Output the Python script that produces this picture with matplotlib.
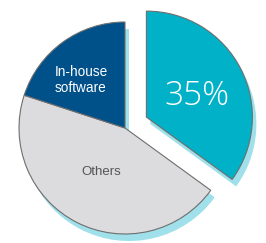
import matplotlib
matplotlib.use("Agg")
import matplotlib.pyplot as plt

labels = ["35%", "Others", "In-house\nsoftware"]
values = [35, 45, 20]
colors = ["#00B1C8", "#DCDCDE", "#00508A"]
explode = [24, 0, 0]
label_colors = ["white", "#555555", "white"]

W, H = 266, 243
fig = plt.figure(figsize=(W / 100, H / 100), dpi=100)
ax = fig.add_axes([0, 0, 1, 1])

cx, cy, R = 125, H - 128, 106

# shadow
ax.pie(values, explode=explode, colors=["#9FE0EA"] * 3, startangle=90,
       counterclock=False, radius=R, center=(cx + 4, cy - 7),
       wedgeprops=dict(linewidth=0), frame=True)
# main pie
wedges, _ = ax.pie(values, explode=explode, colors=colors, startangle=90,
                   counterclock=False, radius=R, center=(cx, cy),
                   wedgeprops=dict(linewidth=0.8, edgecolor="#6E6E6E"), frame=True)
ax.set_xlim(0, W)
ax.set_ylim(0, H)
ax.set_aspect("equal")
ax.axis("off")

ax.text(197, H - 96, labels[0], color=label_colors[0], fontsize=24,
        family="Open Sans", fontweight="light", ha="center", va="center")
ax.text(101, H - 172, labels[1], color=label_colors[1], fontsize=9.5,
        family="Liberation Sans", ha="center", va="center")
ax.text(81, H - 80, labels[2], color=label_colors[2], fontsize=9.8,
        family="Liberation Sans", ha="center", va="center", linespacing=1.25)

fig.savefig("out.png", dpi=100)
